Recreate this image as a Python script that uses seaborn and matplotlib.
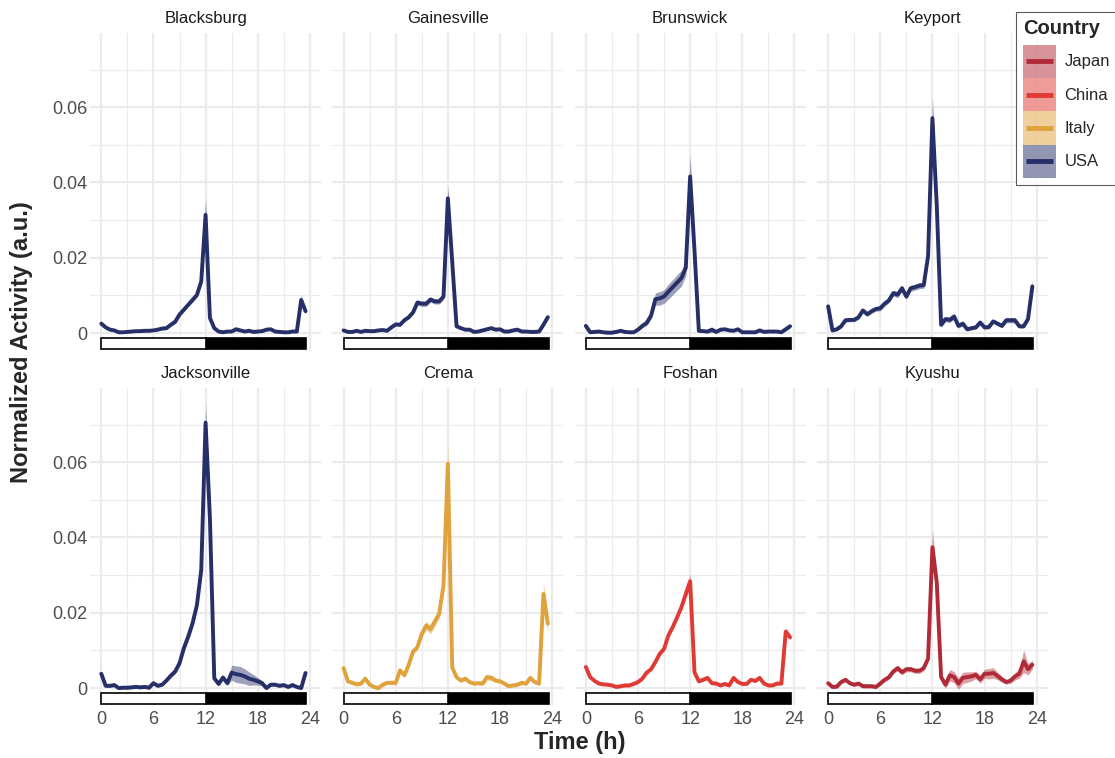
import numpy as np
import pandas as pd
import matplotlib
matplotlib.use("Agg")
import matplotlib.pyplot as plt
from matplotlib.patches import Rectangle, Patch
from matplotlib.lines import Line2D
from matplotlib.legend_handler import HandlerBase
from matplotlib.ticker import FixedLocator
import seaborn as sns

# half-hour bins over one day
hours = np.arange(0, 24, 0.5)

cities = ["Blacksburg", "Gainesville", "Brunswick", "Keyport",
          "Jacksonville", "Crema", "Foshan", "Kyushu"]
countries = ["USA", "USA", "USA", "USA", "USA", "Italy", "China", "Japan"]

country_colors = {"Japan": "#B02A37", "China": "#E03A34",
                  "Italy": "#E0A23C", "USA": "#262F68"}
legend_order = ["Japan", "China", "Italy", "USA"]

x_ticks = [0, 6, 12, 18, 24]
y_ticks = [0, 0.02, 0.04, 0.06]
y_labels = ["0", "0.02", "0.04", "0.06"]

# mean activity per half hour
blacksburg = [0.0025, 0.0015, 0.0009, 0.0007, 0.0002, 0.0002, 0.0003, 0.0004,
              0.0005, 0.0005, 0.0006, 0.0006, 0.0007, 0.0009, 0.0012, 0.0013,
              0.0022, 0.0030, 0.0049, 0.0062, 0.0075, 0.0088, 0.0101, 0.0137,
              0.0314, 0.0040, 0.0013, 0.0004, 0.0002, 0.0004, 0.0004, 0.0010,
              0.0007, 0.0004, 0.0006, 0.0003, 0.0004, 0.0005, 0.0009, 0.0010,
              0.0004, 0.0003, 0.0002, 0.0002, 0.0004, 0.0004, 0.0088, 0.0058]
gainesville = [0.0007, 0.0003, 0.0003, 0.0006, 0.0003, 0.0006, 0.0005, 0.0005,
               0.0007, 0.0008, 0.0006, 0.0015, 0.0023, 0.0022, 0.0034, 0.0042,
               0.0055, 0.0081, 0.0078, 0.0078, 0.0089, 0.0084, 0.0084, 0.0097,
               0.0358, 0.0190, 0.0018, 0.0013, 0.0009, 0.0009, 0.0003, 0.0004,
               0.0007, 0.0010, 0.0013, 0.0009, 0.0010, 0.0004, 0.0004, 0.0007,
               0.0009, 0.0004, 0.0004, 0.0003, 0.0003, 0.0004, 0.0022, 0.0042]
brunswick = [0.0019, 0.0002, 0.0003, 0.0004, 0.0002, 0.0001, 0.0001, 0.0003,
             0.0006, 0.0003, 0.0002, 0.0002, 0.0009, 0.0019, 0.0027, 0.0046,
             0.0090, 0.0092, 0.0097, 0.0110, 0.0122, 0.0134, 0.0146, 0.0173,
             0.0416, 0.0220, 0.0006, 0.0005, 0.0004, 0.0009, 0.0003, 0.0009,
             0.0010, 0.0007, 0.0006, 0.0010, 0.0002, 0.0002, 0.0002, 0.0002,
             0.0007, 0.0003, 0.0004, 0.0004, 0.0004, 0.0002, 0.0010, 0.0018]
keyport = [0.0071, 0.0007, 0.0010, 0.0018, 0.0034, 0.0035, 0.0035, 0.0042,
           0.0060, 0.0050, 0.0058, 0.0064, 0.0066, 0.0078, 0.0087, 0.0106,
           0.0102, 0.0119, 0.0097, 0.0119, 0.0122, 0.0126, 0.0127, 0.0204,
           0.0571, 0.0340, 0.0022, 0.0037, 0.0035, 0.0044, 0.0019, 0.0025,
           0.0010, 0.0013, 0.0015, 0.0028, 0.0015, 0.0016, 0.0031, 0.0025,
           0.0019, 0.0034, 0.0034, 0.0034, 0.0018, 0.0018, 0.0037, 0.0124]
jacksonville = [0.0038, 0.0006, 0.0006, 0.0008, 0.0000, 0.0001, 0.0001, 0.0002,
                0.0003, 0.0002, 0.0003, 0.0001, 0.0013, 0.0006, 0.0009, 0.0020,
                0.0033, 0.0044, 0.0066, 0.0106, 0.0137, 0.0172, 0.0220, 0.0313,
                0.0705, 0.0450, 0.0026, 0.0011, 0.0028, 0.0013, 0.0041, 0.0037,
                0.0035, 0.0031, 0.0025, 0.0022, 0.0018, 0.0013, 0.0000, 0.0009,
                0.0009, 0.0006, 0.0008, 0.0003, 0.0008, 0.0003, 0.0000, 0.0040]
crema = [0.0053, 0.0018, 0.0014, 0.0010, 0.0012, 0.0025, 0.0009, 0.0003,
         0.0000, 0.0009, 0.0014, 0.0014, 0.0014, 0.0047, 0.0034, 0.0062,
         0.0097, 0.0109, 0.0144, 0.0166, 0.0156, 0.0177, 0.0197, 0.0273,
         0.0596, 0.0055, 0.0029, 0.0020, 0.0025, 0.0016, 0.0012, 0.0013,
         0.0012, 0.0029, 0.0027, 0.0020, 0.0018, 0.0012, 0.0005, 0.0007,
         0.0009, 0.0014, 0.0012, 0.0027, 0.0016, 0.0012, 0.0250, 0.0171]
foshan = [0.0056, 0.0029, 0.0019, 0.0012, 0.0010, 0.0009, 0.0007, 0.0003,
          0.0005, 0.0007, 0.0007, 0.0011, 0.0016, 0.0025, 0.0041, 0.0050,
          0.0069, 0.0091, 0.0104, 0.0140, 0.0162, 0.0188, 0.0215, 0.0250,
          0.0284, 0.0042, 0.0018, 0.0022, 0.0027, 0.0013, 0.0012, 0.0007,
          0.0011, 0.0007, 0.0027, 0.0016, 0.0011, 0.0011, 0.0022, 0.0019,
          0.0027, 0.0012, 0.0007, 0.0007, 0.0012, 0.0012, 0.0150, 0.0135]
kyushu = [0.0013, 0.0003, 0.0004, 0.0016, 0.0022, 0.0013, 0.0009, 0.0012,
          0.0005, 0.0005, 0.0005, 0.0003, 0.0012, 0.0022, 0.0029, 0.0044,
          0.0053, 0.0042, 0.0050, 0.0050, 0.0046, 0.0046, 0.0053, 0.0078,
          0.0374, 0.0281, 0.0029, 0.0009, 0.0034, 0.0029, 0.0012, 0.0027,
          0.0029, 0.0031, 0.0035, 0.0023, 0.0038, 0.0038, 0.0040, 0.0032,
          0.0023, 0.0016, 0.0020, 0.0031, 0.0038, 0.0071, 0.0050, 0.0062]

# standard error (ribbon half width)
se_blacksburg = [0.0003, 0.0003, 0.0003, 0.0003, 0.0003, 0.0003, 0.0003, 0.0003,
                 0.0003, 0.0003, 0.0003, 0.0003, 0.0003, 0.0003, 0.0004, 0.0004,
                 0.0004, 0.0005, 0.0005, 0.0005, 0.0005, 0.0006, 0.0006, 0.0008,
                 0.0045, 0.0008, 0.0004, 0.0003, 0.0003, 0.0003, 0.0003, 0.0003,
                 0.0003, 0.0003, 0.0003, 0.0003, 0.0003, 0.0003, 0.0003, 0.0003,
                 0.0003, 0.0003, 0.0003, 0.0003, 0.0003, 0.0004, 0.0012, 0.0008]
se_gainesville = [0.0003, 0.0003, 0.0003, 0.0003, 0.0003, 0.0003, 0.0003, 0.0003,
                  0.0003, 0.0003, 0.0003, 0.0003, 0.0004, 0.0004, 0.0004, 0.0004,
                  0.0005, 0.0007, 0.0007, 0.0007, 0.0007, 0.0007, 0.0007, 0.0008,
                  0.0032, 0.0012, 0.0003, 0.0003, 0.0003, 0.0003, 0.0003, 0.0003,
                  0.0003, 0.0003, 0.0003, 0.0003, 0.0003, 0.0003, 0.0003, 0.0003,
                  0.0003, 0.0003, 0.0003, 0.0003, 0.0003, 0.0003, 0.0004, 0.0006]
se_brunswick = [0.0004, 0.0003, 0.0003, 0.0003, 0.0003, 0.0003, 0.0003, 0.0003,
                0.0003, 0.0003, 0.0003, 0.0003, 0.0004, 0.0005, 0.0007, 0.0009,
                0.0016, 0.0018, 0.0018, 0.0020, 0.0020, 0.0021, 0.0021, 0.0020,
                0.0057, 0.0020, 0.0004, 0.0003, 0.0004, 0.0007, 0.0004, 0.0004,
                0.0003, 0.0003, 0.0003, 0.0003, 0.0003, 0.0003, 0.0003, 0.0003,
                0.0003, 0.0003, 0.0003, 0.0003, 0.0003, 0.0003, 0.0004, 0.0005]
se_keyport = [0.0006, 0.0004, 0.0004, 0.0005, 0.0005, 0.0005, 0.0005, 0.0006,
              0.0006, 0.0006, 0.0006, 0.0006, 0.0007, 0.0007, 0.0007, 0.0008,
              0.0008, 0.0008, 0.0008, 0.0008, 0.0008, 0.0008, 0.0008, 0.0012,
              0.0056, 0.0020, 0.0007, 0.0007, 0.0007, 0.0008, 0.0006, 0.0006,
              0.0005, 0.0005, 0.0005, 0.0006, 0.0005, 0.0005, 0.0005, 0.0005,
              0.0005, 0.0007, 0.0007, 0.0007, 0.0005, 0.0005, 0.0006, 0.0016]
se_jacksonville = [0.0006, 0.0004, 0.0004, 0.0004, 0.0004, 0.0004, 0.0004, 0.0004,
                   0.0004, 0.0004, 0.0004, 0.0004, 0.0004, 0.0004, 0.0004, 0.0004,
                   0.0005, 0.0006, 0.0008, 0.0010, 0.0012, 0.0012, 0.0012, 0.0012,
                   0.0050, 0.0020, 0.0006, 0.0005, 0.0006, 0.0006, 0.0020, 0.0022,
                   0.0022, 0.0020, 0.0018, 0.0014, 0.0010, 0.0007, 0.0004, 0.0004,
                   0.0004, 0.0004, 0.0004, 0.0004, 0.0004, 0.0004, 0.0004, 0.0008]
se_crema = [0.0005, 0.0005, 0.0005, 0.0005, 0.0005, 0.0005, 0.0005, 0.0005,
            0.0005, 0.0005, 0.0005, 0.0005, 0.0005, 0.0006, 0.0006, 0.0006,
            0.0007, 0.0008, 0.0010, 0.0012, 0.0012, 0.0014, 0.0012, 0.0012,
            0.0053, 0.0008, 0.0005, 0.0005, 0.0005, 0.0005, 0.0005, 0.0005,
            0.0005, 0.0008, 0.0008, 0.0006, 0.0005, 0.0005, 0.0005, 0.0005,
            0.0005, 0.0005, 0.0005, 0.0005, 0.0005, 0.0005, 0.0028, 0.0025]
se_foshan = [0.0004, 0.0004, 0.0004, 0.0004, 0.0004, 0.0004, 0.0004, 0.0004,
             0.0004, 0.0004, 0.0004, 0.0004, 0.0004, 0.0004, 0.0004, 0.0004,
             0.0005, 0.0005, 0.0005, 0.0005, 0.0006, 0.0007, 0.0008, 0.0010,
             0.0020, 0.0006, 0.0004, 0.0004, 0.0005, 0.0004, 0.0004, 0.0004,
             0.0004, 0.0004, 0.0004, 0.0004, 0.0004, 0.0004, 0.0004, 0.0004,
             0.0004, 0.0004, 0.0004, 0.0004, 0.0004, 0.0004, 0.0010, 0.0008]
se_kyushu = [0.0005, 0.0005, 0.0005, 0.0005, 0.0005, 0.0005, 0.0005, 0.0005,
             0.0005, 0.0005, 0.0005, 0.0005, 0.0005, 0.0005, 0.0006, 0.0006,
             0.0007, 0.0007, 0.0007, 0.0007, 0.0007, 0.0007, 0.0007, 0.0008,
             0.0047, 0.0020, 0.0008, 0.0010, 0.0015, 0.0015, 0.0015, 0.0015,
             0.0014, 0.0012, 0.0010, 0.0010, 0.0012, 0.0014, 0.0014, 0.0010,
             0.0008, 0.0006, 0.0007, 0.0010, 0.0012, 0.0030, 0.0015, 0.0012]

means = [blacksburg, gainesville, brunswick, keyport,
         jacksonville, crema, foshan, kyushu]
errors = [se_blacksburg, se_gainesville, se_brunswick, se_keyport,
          se_jacksonville, se_crema, se_foshan, se_kyushu]

frames = []
for city, country, m, e in zip(cities, countries, means, errors):
    frames.append(pd.DataFrame({"city": city, "country": country,
                                "time": hours, "activity": m, "se": e}))
df = pd.concat(frames, ignore_index=True)


class RibbonKey(HandlerBase):
    # shaded box with a short line through its middle, like a ribbon + line key
    def create_artists(self, legend, orig_handle, xdescent, ydescent,
                       width, height, fontsize, trans):
        color = orig_handle.get_facecolor()[:3]
        box = Rectangle((-xdescent, -ydescent), width, height,
                        facecolor=color, alpha=0.5, edgecolor="none",
                        transform=trans)
        yc = -ydescent + height / 2
        line = Line2D([-xdescent + 0.1 * width, -xdescent + 0.9 * width],
                      [yc, yc], color=color, linewidth=3.5,
                      solid_capstyle="butt", transform=trans)
        return [box, line]


sns.set_theme(style="whitegrid")
plt.rcParams["font.family"] = ["Liberation Sans", "DejaVu Sans"]

fig, axes = plt.subplots(2, 4, figsize=(11.15, 7.58), dpi=100,
                         sharex=True, sharey=True)
fig.subplots_adjust(left=90 / 1115, right=1048 / 1115,
                    top=1 - 33 / 758, bottom=1 - 705 / 758,
                    wspace=0.048, hspace=0.12)

for ax, city, country in zip(axes.flat, cities, countries):
    sub = df[df.city == city]
    color = country_colors[country]
    ax.fill_between(sub.time, sub.activity - sub.se, sub.activity + sub.se,
                    color=color, alpha=0.45, linewidth=0, zorder=2)
    sns.lineplot(data=sub, x="time", y="activity", color=color,
                 linewidth=2.8, errorbar=None, legend=False, ax=ax, zorder=3)

    # light / dark bar under each panel
    ax.add_patch(Rectangle((12, -0.0043), 11.6, 0.003, facecolor="black",
                           edgecolor="black", linewidth=1.2, zorder=4))
    ax.add_patch(Rectangle((0, -0.0043), 12, 0.003, facecolor="white",
                           edgecolor="black", linewidth=1.2, zorder=5))

    ax.set_xlim(-1.3, 25.3)
    ax.set_ylim(-0.0045, 0.0797)
    ax.xaxis.set_major_locator(FixedLocator(x_ticks))
    ax.xaxis.set_minor_locator(FixedLocator([3, 9, 15, 21]))
    ax.set_yticks(y_ticks, labels=y_labels)
    ax.yaxis.set_minor_locator(FixedLocator([0.01, 0.03, 0.05, 0.07]))
    ax.grid(which="major", color="#EBEBEB", linewidth=1.6)
    ax.grid(which="minor", color="#EBEBEB", linewidth=0.8)
    ax.set_axisbelow(True)
    ax.set_xlabel("")
    ax.set_ylabel("")
    ax.tick_params(which="both", length=0, labelsize=13, labelcolor="#4D4D4D")
    ax.tick_params(axis="y", pad=2)
    ax.tick_params(axis="x", pad=4)
    for s in ax.spines.values():
        s.set_visible(False)
    ax.set_title(city, fontsize=12, color="#1A1A1A", pad=7)

fig.text(22 / 1115, 1 - 342 / 758, "Normalized Activity (a.u.)", rotation=90,
         fontsize=17, fontweight="bold", ha="center", va="center")
fig.text(580 / 1115, 1 - 743 / 758, "Time (h)", fontsize=17,
         fontweight="bold", ha="center", va="center")

handles = [Patch(facecolor=country_colors[c]) for c in legend_order]
leg = fig.legend(handles, legend_order, title="Country", loc="upper left",
                 bbox_to_anchor=(1016 / 1115, 1 - 12 / 758), borderaxespad=0,
                 frameon=True, fancybox=False, edgecolor="#333333", fontsize=12,
                 title_fontproperties={"weight": "bold", "size": 14.5},
                 handler_map={Patch: RibbonKey()},
                 handlelength=2.0, handleheight=2.7, labelspacing=0,
                 handletextpad=0.5, borderpad=0.4, alignment="left")
leg._legend_box.sep = 5
leg.get_frame().set_linewidth(0.8)
leg.get_frame().set_facecolor("white")

fig.savefig("out.png", dpi=100)
